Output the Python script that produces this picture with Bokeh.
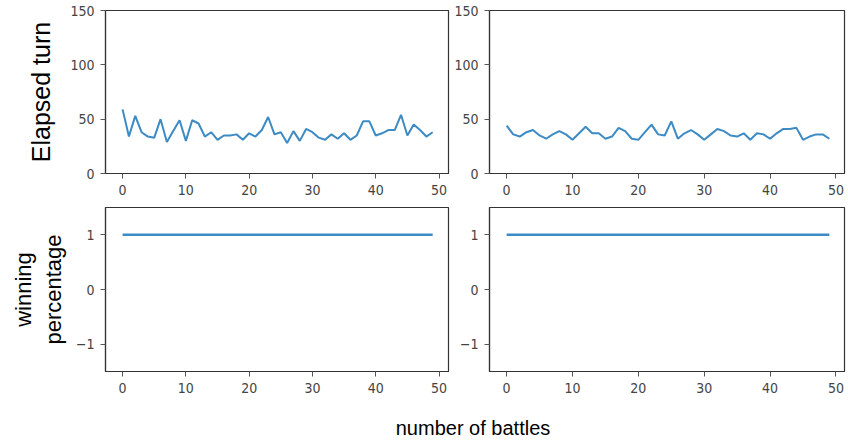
from bokeh.plotting import figure
from bokeh.layouts import column, row
from bokeh.models import Div, Range1d
from bokeh.embed import file_html
from bokeh.resources import INLINE

# ---- data ----
battles = list(range(50))
elapsed_left = [59, 34, 53, 38, 34, 33, 50, 29, 39, 49,
                30, 49, 46, 34, 38, 31, 35, 35, 36, 31,
                37, 34, 40, 52, 36, 38, 28, 39, 30, 41,
                38, 33, 31, 36, 32, 37, 31, 35, 48, 48,
                35, 37, 40, 40, 54, 35, 45, 40, 34, 38]
elapsed_right = [44, 36, 34, 38, 40, 35, 32, 36, 39, 36,
                 31, 37, 43, 37, 37, 32, 34, 42, 39, 32,
                 31, 38, 45, 36, 35, 48, 32, 37, 40, 36,
                 31, 36, 41, 39, 35, 34, 37, 31, 37, 36,
                 32, 37, 41, 41, 42, 31, 34, 36, 36, 32]
winning_left = [1, 1, 1, 1, 1, 1, 1, 1, 1, 1,
                1, 1, 1, 1, 1, 1, 1, 1, 1, 1,
                1, 1, 1, 1, 1, 1, 1, 1, 1, 1,
                1, 1, 1, 1, 1, 1, 1, 1, 1, 1,
                1, 1, 1, 1, 1, 1, 1, 1, 1, 1]
winning_right = [1, 1, 1, 1, 1, 1, 1, 1, 1, 1,
                 1, 1, 1, 1, 1, 1, 1, 1, 1, 1,
                 1, 1, 1, 1, 1, 1, 1, 1, 1, 1,
                 1, 1, 1, 1, 1, 1, 1, 1, 1, 1,
                 1, 1, 1, 1, 1, 1, 1, 1, 1, 1]
x_ticks = [0, 10, 20, 30, 40, 50]
turn_ticks = [0, 50, 100, 150]
win_ticks = [-1, 0, 1]

LINE = "#3d8bc4"
AXC = "#333333"
TICK_FONT = "DejaVu Sans Condensed, Liberation Sans"
LABEL_FONT = "Liberation Sans"


def make(width, height, xr, yr, yticks, border_left, border_right, border_top, border_bottom):
    p = figure(width=width, height=height, x_range=Range1d(*xr), y_range=Range1d(*yr),
               output_backend="svg", toolbar_location=None,
               min_border_left=border_left, min_border_right=border_right,
               min_border_top=border_top, min_border_bottom=border_bottom)
    p.grid.visible = False
    p.outline_line_color = AXC
    p.outline_line_width = 1.2
    p.outline_line_alpha = 1
    for ax in (p.xaxis[0], p.yaxis[0]):
        ax.axis_line_color = AXC
        ax.axis_line_width = 1.2
        ax.major_tick_line_color = "#555555"
        ax.major_tick_out = 5
        ax.major_tick_in = 0
        ax.minor_tick_line_color = None
        ax.major_label_text_font = TICK_FONT
        ax.major_label_text_font_size = "14px"
        ax.major_label_text_color = "#444444"
        ax.major_label_standoff = 6
    p.xaxis.ticker = x_ticks
    p.yaxis.ticker = yticks
    return p


def style_label(p, text, size, standoff):
    p.yaxis.axis_label = text
    p.yaxis.axis_label_text_font = LABEL_FONT
    p.yaxis.axis_label_text_font_size = size
    p.yaxis.axis_label_text_font_style = "normal"
    p.yaxis.axis_label_text_color = "#000000"
    p.yaxis.axis_label_standoff = standoff


XL = (-2.7, 51.5)
XR = (-2.6, 51.3)

p1 = make(450, 203, XL, (0, 150), turn_ticks, 105, 2, 10, 30)
p1.line(battles, elapsed_left, line_color=LINE, line_width=2)
style_label(p1, "Elapsed turn", "25px", 12)

p2 = make(396, 203, XR, (0, 150), turn_ticks, 39, 2, 10, 30)
p2.line(battles, elapsed_right, line_color=LINE, line_width=2)

p3 = make(450, 196, XL, (-1.5, 1.5), win_ticks, 105, 2, 4, 28)
p3.line(battles, winning_left, line_color=LINE, line_width=2.5)
style_label(p3, "winning\npercentage", "22px", 7)

p4 = make(396, 196, XR, (-1.5, 1.5), win_ticks, 39, 2, 4, 28)
p4.line(battles, winning_right, line_color=LINE, line_width=2.5)

caption = Div(
    text='<div style="box-sizing:border-box;width:846px;padding-left:90px;text-align:center;'
         'font-family:\'Liberation Sans\',Arial,sans-serif;font-size:20px;color:#000;'
         'padding-top:13px;line-height:22px;">number of battles</div>',
    width=846, height=40)

layout = column(row(p1, p2), row(p3, p4), caption)

open("out.html", "w").write(file_html(layout, INLINE))
